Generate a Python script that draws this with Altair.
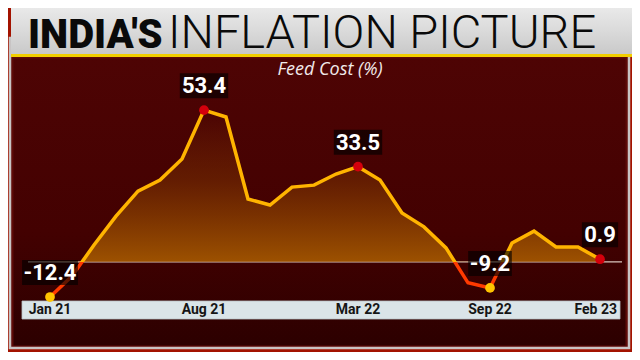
import altair as alt
import pandas as pd

# ---------------- data ----------------
months = ["Jan 21", "Feb 21", "Mar 21", "Apr 21", "May 21", "Jun 21", "Jul 21", "Aug 21",
          "Sep 21", "Oct 21", "Nov 21", "Dec 21", "Jan 22", "Feb 22", "Mar 22", "Apr 22",
          "May 22", "Jun 22", "Jul 22", "Aug 22", "Sep 22", "Oct 22", "Nov 22", "Dec 22",
          "Jan 23", "Feb 23"]
feed_cost = [-12.4, -5.0, 5.9, 16.1, 24.9, 28.8, 36.2, 53.4,
             51.0, 22.1, 20.0, 26.3, 27.0, 30.9, 33.5, 28.8,
             17.2, 12.3, 4.9, -7.4, -9.2, 6.6, 10.8, 5.2,
             5.2, 0.9]
highlight_idx = [0, 7, 14, 20, 25]
tick_idx = [0, 7, 14, 20, 25]
tick_labels = ["Jan 21", "Aug 21", "Mar 22", "Sep 22", "Feb 23"]

title_bold = "INDIA'S"
title_light = "INFLATION PICTURE"
subtitle = "Feed Cost (%)"

# ---------------- layout ----------------
W, H = 624, 344
PX_PER_MONTH = 22.0
X0_PX = 42.0            # pixel position of first month
PX_PER_UNIT = 2.84
ZERO_PX = 253.8         # pixel position of 0 %
x_dom = [-X0_PX / PX_PER_MONTH, (W - X0_PX) / PX_PER_MONTH]
y_dom = [(ZERO_PX - H) / PX_PER_UNIT, ZERO_PX / PX_PER_UNIT]

df = pd.DataFrame({"i": list(range(len(months))), "month": months, "v": feed_cost})
df["zero"] = 0.0

def fmt(v):
    return f"{v:.1f}"

def text_w(s):
    w = 0
    for ch in s:
        w += 5.8 if ch == "." else (7.5 if ch == "-" else 12.2)
    return w + 6

hl = df.iloc[highlight_idx].copy()
hl["label"] = [fmt(v) for v in hl["v"]]
hl["lo"] = [i - text_w(l) / 2 / PX_PER_MONTH for i, l in zip(hl["i"], hl["label"])]
hl["hi"] = [i + text_w(l) / 2 / PX_PER_MONTH for i, l in zip(hl["i"], hl["label"])]

ticks_df = pd.DataFrame({"i": tick_idx, "label": tick_labels})

vmax, vmin = max(feed_cost), min(feed_cost)
zf = vmax / (vmax - vmin)

xscale = alt.Scale(domain=x_dom, nice=False, zero=False)
yscale = alt.Scale(domain=y_dom, nice=False, zero=False)
X = alt.X("i:Q", scale=xscale, axis=None)
Y = alt.Y("v:Q", scale=yscale, axis=None)

one = alt.Data(values=[{"k": 0}])

def box(x, x2, y, y2, **kw):
    return alt.Chart(one).mark_rect(**kw).encode(
        x=alt.value(x), x2=alt.value(x2), y=alt.value(y), y2=alt.value(y2))

panel = box(4, 619, 49, 339,
            fill=alt.Gradient(gradient="linear", x1=0, x2=0, y1=0, y2=1,
                              stops=[alt.GradientStop(offset=0, color="#4e0404"),
                                     alt.GradientStop(offset=0.6, color="#430101"),
                                     alt.GradientStop(offset=1, color="#2c0000")]),
            stroke="#5e0b08", strokeWidth=3)
frame = box(2, 621, 30, 340, fillOpacity=0, stroke="#c8c4c4", strokeWidth=2.5)
titlebar = box(3, 624, 0, 46,
               fill=alt.Gradient(gradient="linear", x1=0, x2=0, y1=0, y2=1,
                                 stops=[alt.GradientStop(offset=0, color="#e9e9e9"),
                                        alt.GradientStop(offset=0.5, color="#dadada"),
                                        alt.GradientStop(offset=1, color="#c9c9c9")]))
yellow = box(3, 624, 46, 49, fill="#f2cf00")
band = box(14, 612, 293, 311, fill="#dae4e8", stroke="#b8c2c6", strokeWidth=0.8)

rule_df = pd.DataFrame({"a": [-1.0], "b": [26.0], "z": [0.0]})
zero_rule = alt.Chart(rule_df).mark_rule(color="#d8c6be", strokeWidth=1.2).encode(
    x=alt.X("a:Q", scale=xscale, axis=None), x2="b:Q",
    y=alt.Y("z:Q", scale=yscale, axis=None))

base = alt.Chart(df)
area = base.mark_area(
    fill=alt.Gradient(gradient="linear", x1=0, x2=0, y1=0, y2=1,
                      stops=[alt.GradientStop(offset=0, color="rgba(170,90,0,0.0)"),
                             alt.GradientStop(offset=zf * 0.45, color="rgba(150,75,0,0.35)"),
                             alt.GradientStop(offset=zf, color="rgba(165,88,0,0.92)"),
                             alt.GradientStop(offset=zf, color="rgba(0,0,0,0)"),
                             alt.GradientStop(offset=1, color="rgba(0,0,0,0)")])
).encode(x=X, y=Y, y2="zero:Q")

line = base.mark_line(
    strokeWidth=3.5,
    stroke=alt.Gradient(gradient="linear", x1=0, x2=0, y1=0, y2=1,
                        stops=[alt.GradientStop(offset=0, color="#ffb400"),
                               alt.GradientStop(offset=zf, color="#ffb400"),
                               alt.GradientStop(offset=zf, color="#ff3a00"),
                               alt.GradientStop(offset=1, color="#ff3a00")])
).encode(x=X, y=Y)

# month labels on the light band (last one flush right)
tick_style = dict(font="Roboto", fontWeight="bold", fontSize=14, color="#151515",
                  baseline="middle")
ticks_inner = alt.Chart(ticks_df.iloc[:-1]).mark_text(align="center", **tick_style).encode(
    x=X, y=alt.value(302), text="label:N")
ticks_last = alt.Chart(ticks_df.iloc[-1:]).mark_text(align="right", dx=17, **tick_style).encode(
    x=X, y=alt.value(302), text="label:N")

hbase = alt.Chart(hl)
dots = hbase.mark_circle(size=95, opacity=1).encode(
    x=X, y=Y,
    color=alt.condition(alt.datum.v < 0, alt.value("#ffc400"), alt.value("#d4000c")))
lboxes = hbase.mark_rect(color="black", opacity=0.62, yOffset=-37, y2Offset=-12).encode(
    x=alt.X("lo:Q", scale=xscale, axis=None), x2="hi:Q", y=Y, y2="v:Q")
ltext = hbase.mark_text(dy=-24, fontSize=22, fontWeight="bold", font="Roboto",
                        color="white", baseline="middle", align="center").encode(
    x=X, y=Y, text="label:N")

def txt(s, x, y, **kw):
    return alt.Chart(one).mark_text(text=s, **kw).encode(x=alt.value(x), y=alt.value(y))

t1 = txt(title_bold, 20, 40, font="Roboto", fontWeight=900, fontSize=40,
         color="#0a0a0a", align="left", baseline="alphabetic")
t2 = txt(title_light, 160, 40, font="Roboto", fontWeight=300, fontSize=47,
         color="#0a0a0a", align="left", baseline="alphabetic")
st = txt(subtitle, 322, 62, font="Open Sans", fontStyle="italic", fontSize=18,
         color="#f2eaea", align="center", baseline="middle")

chart = alt.layer(panel, frame, titlebar, yellow, band, zero_rule, area, line,
                  ticks_inner, ticks_last, dots, lboxes, ltext, t1, t2, st).properties(
    width=W, height=H, autosize=alt.AutoSizeParams(type="none"), padding=0,
    background="#a31300"
).configure_view(strokeWidth=0)

chart.save("out.html", embed_options={"renderer": "svg", "actions": False})
